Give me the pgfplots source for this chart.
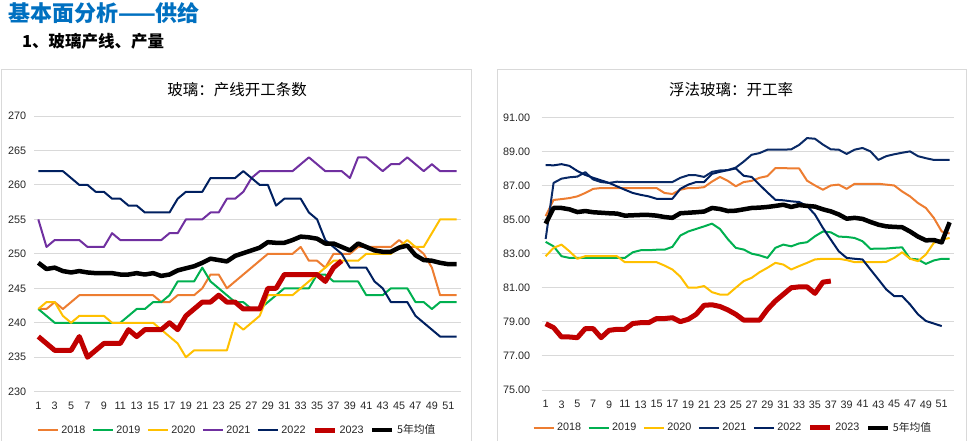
\documentclass[border=0pt]{standalone}
\usepackage{fontspec}
\setmainfont{Liberation Sans}
\newfontfamily\cjk{Noto Sans CJK SC}
\usepackage{pgfplots}
\pgfplotsset{compat=1.18}
\definecolor{c18}{HTML}{ED7D31}
\definecolor{c19}{HTML}{00B050}
\definecolor{c20}{HTML}{FFC000}
\definecolor{c21}{HTML}{7030A0}
\definecolor{c22}{HTML}{002060}
\definecolor{c21b}{HTML}{0A2A66}
\definecolor{c23}{HTML}{C00000}
\definecolor{hdr}{HTML}{0070C0}
\definecolor{frame}{HTML}{D9D9D9}
\pgfplotsset{
  common/.style={
    scale only axis,
    xmin=0.5, xmax=52.5,
    xtick={1,3,...,51},
    ymajorgrids,
    grid style={draw=frame, line width=0.9pt},
    axis line style={draw=none},
    major tick length=0pt,
    tick label style={font=\fontsize{10.8}{12}\selectfont, text=black!85},
    /pgf/number format/assume math mode=true,
    xticklabel style={yshift=-7pt},
    legend columns=7,
    legend cell align=left,
    legend style={draw=none, fill=none, font=\fontsize{10.8}{12}\selectfont, text=black!85,
      /tikz/every even column/.append style={column sep=4.5pt},
      /tikz/every odd column/.append style={column sep=0.5pt}},
    legend image code/.code={\draw[##1] (0pt,0pt) -- (20pt,0pt);},
  },
  thin/.style={line width=2pt, line join=round},
  fat/.style={line width=5pt, line join=round},
}
\begin{document}
\begin{tikzpicture}[x=1pt,y=1pt]
\path[use as bounding box] (0,0) rectangle (970,441);
\draw[frame, line width=1pt] (1.5,-2) rectangle (471,371);
\draw[frame, line width=1pt] (497,-2) rectangle (966.5,371);
\node[anchor=west, text=hdr, inner sep=0pt] at (8,428) {\cjk\bfseries\fontsize{22}{24}\selectfont 基本面分析——供给};
\node[anchor=west, inner sep=0pt] at (22,400) {\cjk\bfseries\fontsize{16.5}{18}\selectfont 1、玻璃产线、产量};
\node[inner sep=0pt] at (237,351) {\cjk\fontsize{15.5}{17}\selectfont 玻璃：产线开工条数};
\node[inner sep=0pt] at (731,351) {\cjk\fontsize{15.5}{17}\selectfont 浮法玻璃：开工率};

\begin{axis}[common,
  at={(34.2pt,49.3pt)}, anchor=south west,
  width=426.4pt, height=275.7pt,
  ymin=230, ymax=270, ytick={230,235,...,270},
  yticklabel style={xshift=-4.5pt},
  legend style={at={(0.476,-0.139)}, anchor=center},
]
\addplot[c18, thin] coordinates {(1,242)(2,242)(3,243)(4,242)(5,243)(6,244)(7,244)(8,244)(9,244)(10,244)(11,244)(12,244)(13,244)(14,244)(15,244)(16,243)(17,243)(18,244)(19,244)(20,244)(21,245)(22,247)(23,247)(24,245)(25,246)(26,247)(27,248)(28,249)(29,250)(30,250)(31,250)(32,250)(33,251)(34,249)(35,249)(36,248)(37,250)(38,250)(39,250)(40,251)(41,251)(42,251)(43,251)(44,251)(45,252)(46,251)(47,251)(48,250)(49,248)(50,244)(51,244)(52,244)};
\addlegendentry{2018}
\addplot[c19, thin] coordinates {(1,242)(2,241)(3,240)(4,240)(5,240)(6,240)(7,240)(8,240)(9,240)(10,240)(11,240)(12,241)(13,242)(14,242)(15,243)(16,243)(17,244)(18,246)(19,246)(20,246)(21,248)(22,246)(23,245)(24,244)(25,243)(26,243)(27,242)(28,242)(29,243)(30,244)(31,245)(32,245)(33,245)(34,245)(35,247)(36,247)(37,246)(38,246)(39,246)(40,246)(41,244)(42,244)(43,244)(44,245)(45,245)(46,245)(47,243)(48,243)(49,242)(50,243)(51,243)(52,243)};
\addlegendentry{2019}
\addplot[c20, thin] coordinates {(1,242)(2,243)(3,243)(4,241)(5,240)(6,241)(7,241)(8,241)(9,241)(10,240)(11,240)(12,240)(13,240)(14,240)(15,240)(16,239)(17,238)(18,237)(19,235)(20,236)(21,236)(22,236)(23,236)(24,236)(25,240)(26,239)(27,240)(28,241)(29,244)(30,244)(31,244)(32,244)(33,245)(34,246)(35,247)(36,248)(37,249)(38,249)(39,249)(40,249)(41,250)(42,250)(43,250)(44,250)(45,251)(46,252)(47,251)(48,251)(49,253)(50,255)(51,255)(52,255)};
\addlegendentry{2020}
\addplot[c21, thin] coordinates {(1,255)(2,251)(3,252)(4,252)(5,252)(6,252)(7,251)(8,251)(9,251)(10,253)(11,252)(12,252)(13,252)(14,252)(15,252)(16,252)(17,253)(18,253)(19,255)(20,255)(21,255)(22,256)(23,256)(24,258)(25,258)(26,259)(27,261)(28,262)(29,262)(30,262)(31,262)(32,262)(33,263)(34,264)(35,263)(36,262)(37,262)(38,262)(39,261)(40,264)(41,264)(42,263)(43,262)(44,263)(45,263)(46,264)(47,263)(48,262)(49,263)(50,262)(51,262)(52,262)};
\addlegendentry{2021}
\addplot[c22, thin] coordinates {(1,262)(2,262)(3,262)(4,262)(5,261)(6,260)(7,260)(8,259)(9,259)(10,258)(11,258)(12,257)(13,257)(14,256)(15,256)(16,256)(17,256)(18,258)(19,259)(20,259)(21,259)(22,261)(23,261)(24,261)(25,261)(26,262)(27,261)(28,260)(29,260)(30,257)(31,258)(32,258)(33,258)(34,256)(35,255)(36,252)(37,251)(38,250)(39,248)(40,248)(41,248)(42,246)(43,245)(44,243)(45,243)(46,243)(47,241)(48,240)(49,239)(50,238)(51,238)(52,238)};
\addlegendentry{2022}
\addplot[c23, fat] coordinates {(1,238)(2,237)(3,236)(4,236)(5,236)(6,238)(7,235)(8,236)(9,237)(10,237)(11,237)(12,239)(13,238)(14,239)(15,239)(16,239)(17,240)(18,239)(19,241)(20,242)(21,243)(22,243)(23,244)(24,243)(25,243)(26,242)(27,242)(28,242)(29,245)(30,245)(31,247)(32,247)(33,247)(34,247)(35,247)(36,246)(37,248)(38,249)};
\addlegendentry{2023}
\addplot[black, fat, line width=4.5pt] coordinates {(1,248.7)(2,247.8)(3,248.0)(4,247.5)(5,247.3)(6,247.5)(7,247.3)(8,247.2)(9,247.2)(10,247.2)(11,247.0)(12,247.0)(13,247.2)(14,247.0)(15,247.2)(16,246.8)(17,247.0)(18,247.6)(19,247.9)(20,248.2)(21,248.7)(22,249.3)(23,249.1)(24,248.9)(25,249.7)(26,250.1)(27,250.5)(28,250.9)(29,251.7)(30,251.6)(31,251.6)(32,252.0)(33,252.5)(34,252.4)(35,252.2)(36,251.5)(37,251.5)(38,251.0)(39,250.5)(40,251.5)(41,251.0)(42,250.5)(43,250.3)(44,250.3)(45,250.9)(46,251.2)(47,249.8)(48,249.1)(49,249.0)(50,248.7)(51,248.5)(52,248.5)};
\addlegendentry{\cjk 5年均值}
\end{axis}

\begin{axis}[common,
  at={(541.7pt,51pt)}, anchor=south west,
  width=411.9pt, height=272.7pt,
  ymin=75, ymax=91, ytick={75,77,...,91},
  yticklabel style={xshift=-8pt, /pgf/number format/.cd, fixed, fixed zerofill, precision=2},
  legend style={at={(0.4644,-0.139)}, anchor=center},
]
\addplot[c18, thin] coordinates {(1,85.2)(2,86.15)(3,86.2)(4,86.26)(5,86.36)(6,86.56)(7,86.8)(8,86.85)(9,86.85)(10,86.85)(11,86.85)(12,86.85)(13,86.85)(14,86.85)(15,86.85)(16,86.56)(17,86.5)(18,86.75)(19,86.85)(20,86.85)(21,86.9)(22,87.23)(23,87.5)(24,87.27)(25,86.95)(26,87.2)(27,87.27)(28,87.45)(29,87.55)(30,88.02)(31,88.02)(32,88.0)(33,88.0)(34,87.28)(35,87.0)(36,86.75)(37,87.0)(38,87.05)(39,86.8)(40,87.1)(41,87.1)(42,87.1)(43,87.1)(44,87.05)(45,87.0)(46,86.65)(47,86.36)(48,85.97)(49,85.68)(50,85.1)(51,84.3)(52,84.18)};
\addlegendentry{2018}
\addplot[c19, thin] coordinates {(1,83.69)(2,83.43)(3,82.85)(4,82.75)(5,82.75)(6,82.75)(7,82.75)(8,82.75)(9,82.75)(10,82.75)(11,82.75)(12,83.08)(13,83.2)(14,83.2)(15,83.23)(16,83.23)(17,83.4)(18,84.06)(19,84.3)(20,84.45)(21,84.6)(22,84.76)(23,84.45)(24,83.85)(25,83.34)(26,83.24)(27,83.0)(28,82.9)(29,82.75)(30,83.34)(31,83.53)(32,83.43)(33,83.6)(34,83.67)(35,84.02)(36,84.3)(37,84.25)(38,84.0)(39,83.98)(40,83.92)(41,83.73)(42,83.28)(43,83.3)(44,83.3)(45,83.34)(46,83.37)(47,82.7)(48,82.66)(49,82.4)(50,82.6)(51,82.7)(52,82.7)};
\addlegendentry{2019}
\addplot[c20, thin] coordinates {(1,82.85)(2,83.34)(3,83.53)(4,83.14)(5,82.7)(6,82.85)(7,82.85)(8,82.85)(9,82.85)(10,82.85)(11,82.5)(12,82.5)(13,82.5)(14,82.5)(15,82.5)(16,82.3)(17,82.07)(18,81.65)(19,81.0)(20,81.0)(21,81.1)(22,80.74)(23,80.6)(24,80.6)(25,81.0)(26,81.39)(27,81.58)(28,81.91)(29,82.17)(30,82.46)(31,82.36)(32,82.07)(33,82.27)(34,82.46)(35,82.66)(36,82.7)(37,82.7)(38,82.7)(39,82.62)(40,82.5)(41,82.5)(42,82.5)(43,82.5)(44,82.52)(45,82.75)(46,83.08)(47,82.7)(48,82.56)(49,82.95)(50,83.63)(51,83.82)(52,83.92)};
\addlegendentry{2020}
\addplot[c21b, thin] coordinates {(1,83.86)(2,87.15)(3,87.4)(4,87.48)(5,87.52)(6,87.78)(7,87.35)(8,87.2)(9,87.15)(10,87.22)(11,87.2)(12,87.2)(13,87.2)(14,87.2)(15,87.2)(16,87.2)(17,87.2)(18,87.45)(19,87.6)(20,87.6)(21,87.5)(22,87.8)(23,87.88)(24,87.9)(25,88.05)(26,88.4)(27,88.8)(28,88.9)(29,89.1)(30,89.1)(31,89.1)(32,89.12)(33,89.38)(34,89.78)(35,89.74)(36,89.4)(37,89.12)(38,89.1)(39,88.85)(40,89.1)(41,89.2)(42,89.0)(43,88.5)(44,88.72)(45,88.83)(46,88.92)(47,89.0)(48,88.72)(49,88.6)(50,88.5)(51,88.5)(52,88.5)};
\addlegendentry{2021}
\addplot[c22, thin] coordinates {(1,88.2)(2,88.18)(3,88.25)(4,88.15)(5,87.85)(6,87.62)(7,87.45)(8,87.3)(9,87.15)(10,86.95)(11,86.75)(12,86.56)(13,86.45)(14,86.36)(15,86.22)(16,86.22)(17,86.22)(18,86.8)(19,87.05)(20,87.2)(21,87.2)(22,87.68)(23,87.8)(24,87.9)(25,88.0)(26,87.57)(27,87.5)(28,87.04)(29,86.59)(30,86.16)(31,86.13)(32,86.07)(33,86.03)(34,85.8)(35,85.29)(36,84.51)(37,83.82)(38,83.14)(39,82.75)(40,82.7)(41,82.66)(42,82.07)(43,81.49)(44,80.9)(45,80.51)(46,80.51)(47,80.02)(48,79.44)(49,79.05)(50,78.9)(51,78.75)};
\addlegendentry{2022}
\addplot[c23, fat] coordinates {(1,78.89)(2,78.66)(3,78.11)(4,78.11)(5,78.07)(6,78.6)(7,78.6)(8,78.07)(9,78.5)(10,78.56)(11,78.56)(12,78.9)(13,78.95)(14,78.95)(15,79.19)(16,79.19)(17,79.24)(18,79.01)(19,79.15)(20,79.44)(21,79.97)(22,80.0)(23,79.9)(24,79.7)(25,79.44)(26,79.1)(27,79.1)(28,79.1)(29,79.73)(30,80.22)(31,80.61)(32,81.0)(33,81.05)(34,81.05)(35,80.67)(36,81.33)(37,81.39)};
\addlegendentry{2023}
\addplot[black, fat, line width=4.5pt] coordinates {(1,84.76)(2,85.68)(3,85.68)(4,85.6)(5,85.44)(6,85.5)(7,85.43)(8,85.4)(9,85.37)(10,85.35)(11,85.23)(12,85.25)(13,85.27)(14,85.27)(15,85.23)(16,85.15)(17,85.1)(18,85.37)(19,85.4)(20,85.43)(21,85.47)(22,85.68)(23,85.62)(24,85.5)(25,85.52)(26,85.6)(27,85.68)(28,85.7)(29,85.74)(30,85.8)(31,85.87)(32,85.74)(33,85.85)(34,85.8)(35,85.76)(36,85.6)(37,85.48)(38,85.3)(39,85.05)(40,85.1)(41,85.04)(42,84.86)(43,84.7)(44,84.6)(45,84.57)(46,84.55)(47,84.3)(48,84.0)(49,83.78)(50,83.8)(51,83.66)(52,84.84)};
\addlegendentry{\cjk 5年均值}
\end{axis}
\end{tikzpicture}
\end{document}
